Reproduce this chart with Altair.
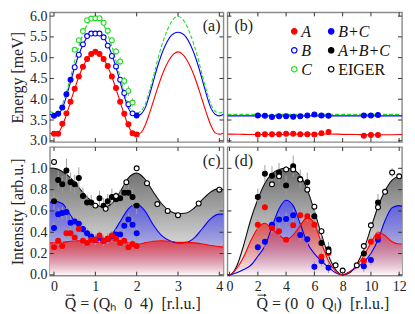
import altair as alt
import pandas as pd

FONT = "Liberation Serif"
TICK = "#333333"
TL = 4

# ---------------- (a) energies along (Qh 0 4) ----------------
A_QH_X = [0.0, 0.1, 0.2, 0.3, 0.4, 0.5, 0.6, 0.7, 0.8, 0.9, 1.0, 1.1, 1.2, 1.3, 1.4, 1.5, 1.6, 1.7, 1.8, 1.9, 2.0]
A_QH_E = [3.17, 3.17, 3.41, 3.66, 3.94, 4.25, 4.55, 4.78, 4.97, 5.09, 5.14, 5.09, 4.97, 4.80, 4.55, 4.27, 3.94, 3.65, 3.40, 3.18, 3.15]
BC_QH_X = [0.0, 0.1, 0.2, 0.3, 0.4, 2.0]
BC_QH_E = [3.60, 3.65, 3.80, 4.12, 4.47, 3.61]
B_QH_X = [0.5, 0.6, 0.7, 0.8, 0.9, 1.0, 1.1, 1.2, 1.3, 1.4, 1.5, 1.6, 1.7, 1.8, 1.9]
B_QH_E = [4.77, 5.07, 5.32, 5.52, 5.58, 5.58, 5.58, 5.49, 5.29, 5.04, 4.79, 4.47, 4.15, 3.88, 3.66]
C_QH_X = [0.5, 0.6, 0.7, 0.8, 0.9, 1.0, 1.1, 1.2, 1.3, 1.4, 1.5, 1.6, 1.7, 1.8, 1.9]
C_QH_E = [5.19, 5.42, 5.64, 5.90, 5.94, 5.95, 5.95, 5.84, 5.65, 5.42, 5.15, 4.91, 4.44, 4.20, 3.92]
C_QH_ERR = [0.05, 0.06, 0.04, 0.03, 0.03, 0.03, 0.03, 0.04, 0.05, 0.06, 0.08, 0.10, 0.10, 0.12, 0.10]

QH_LINE_X = [-0.1, 0.0, 0.1, 0.2, 0.3, 0.4, 0.5, 0.6, 0.7, 0.8, 0.9, 1.0, 1.1, 1.2, 1.3, 1.4, 1.5, 1.6, 1.7, 1.8, 1.9, 2.0,
             2.1, 2.2, 2.3, 2.4, 2.5, 2.6, 2.7, 2.8, 2.9, 3.0, 3.1, 3.2, 3.3, 3.4, 3.5, 3.6, 3.7, 3.8, 3.9, 4.0, 4.1]
RED_QH_LINE = [3.19, 3.16, 3.19, 3.36, 3.63, 3.94, 4.25, 4.54, 4.78, 4.97, 5.09, 5.14, 5.09, 4.97, 4.78, 4.54, 4.25, 3.94, 3.63, 3.36, 3.19, 3.16,
               3.19, 3.36, 3.63, 3.94, 4.25, 4.54, 4.78, 4.97, 5.09, 5.14, 5.09, 4.97, 4.78, 4.54, 4.25, 3.94, 3.63, 3.36, 3.19, 3.16, 3.19]
BLUE_QH_LINE = [3.64, 3.60, 3.64, 3.78, 4.07, 4.42, 4.77, 5.07, 5.31, 5.49, 5.58, 5.61, 5.58, 5.49, 5.31, 5.07, 4.77, 4.42, 4.07, 3.78, 3.64, 3.60,
                3.64, 3.78, 4.07, 4.42, 4.77, 5.07, 5.31, 5.49, 5.58, 5.61, 5.58, 5.49, 5.31, 5.07, 4.77, 4.42, 4.07, 3.78, 3.64, 3.60, 3.64]
GREEN_QH_LINE = [3.71, 3.67, 3.71, 3.87, 4.17, 4.53, 4.92, 5.27, 5.56, 5.79, 5.94, 5.99, 5.94, 5.79, 5.56, 5.27, 4.92, 4.53, 4.17, 3.87, 3.71, 3.67,
                 3.71, 3.87, 4.17, 4.53, 4.92, 5.27, 5.56, 5.79, 5.94, 5.99, 5.94, 5.79, 5.56, 5.27, 4.92, 4.53, 4.17, 3.87, 3.71, 3.67, 3.71]

# ---------------- (b) energies along (0 0 Ql) ----------------
QL_E_X = [2.0, 2.5, 3.0, 3.5, 4.0, 4.5, 5.0, 5.5, 6.0, 6.5, 7.0, 9.5, 10.0, 10.5]
A_QL_E = [3.15, 3.16, 3.16, 3.16, 3.17, 3.17, 3.16, 3.16, 3.15, 3.18, 3.21, 3.12, 3.14, 3.14]
BC_QL_E = [3.61, 3.60, 3.57, 3.59, 3.59, 3.58, 3.59, 3.61, 3.63, 3.61, 3.60, 3.61, 3.61, 3.62]
QL_FLAT_X = [-0.15, 0, 1, 2, 3, 4, 5, 6, 7, 8, 9, 10, 11, 12, 12.2]
RED_QL_FLAT = [3.16, 3.16, 3.155, 3.15, 3.15, 3.155, 3.16, 3.16, 3.165, 3.155, 3.15, 3.145, 3.145, 3.15, 3.155]
BLUE_QL_FLAT = [3.60, 3.60, 3.60, 3.60, 3.60, 3.60, 3.60, 3.60, 3.60, 3.60, 3.60, 3.60, 3.60, 3.60, 3.60]
GREEN_QL_FLAT = [3.635, 3.635, 3.635, 3.635, 3.635, 3.635, 3.635, 3.635, 3.635, 3.635, 3.635, 3.635, 3.635, 3.635, 3.635]

# ---------------- (c) intensities along (Qh 0 4) ----------------
INT_QH_X = [0.0, 0.1, 0.2, 0.3, 0.4, 0.5, 0.6, 0.7, 0.8, 0.9, 1.0, 1.1, 1.2, 1.3, 1.4, 1.5, 1.6, 1.7, 1.8, 1.9, 2.0]
A_QH_I = [0.26, 0.32, 0.27, 0.39, 0.39, 0.35, 0.43, 0.32, 0.30, 0.33, 0.33, 0.37, 0.32, 0.34, 0.37, 0.34, 0.30, 0.32, 0.26, 0.29, 0.27]
A_QH_IERR = [0.04, 0.04, 0.04, 0.05, 0.04, 0.04, 0.05, 0.04, 0.04, 0.04, 0.04, 0.04, 0.04, 0.04, 0.04, 0.04, 0.04, 0.04, 0.04, 0.04, 0.04]
BC_QH_I = [0.44, 0.57, 0.58, 0.59, 0.49, 0.50, 0.48, 0.43, 0.39, 0.36, 0.33, 0.35, 0.32, 0.34, 0.36, 0.38, 0.38, 0.46, 0.52, 0.47, 0.39]
BC_QH_IERR = [0.06, 0.06, 0.06, 0.07, 0.06, 0.06, 0.06, 0.06, 0.05, 0.05, 0.05, 0.05, 0.05, 0.05, 0.05, 0.05, 0.05, 0.06, 0.06, 0.06, 0.06]
ABC_QH_X = [0.0, 0.1, 0.2, 0.3, 0.4, 0.5, 0.6, 0.7, 0.8, 0.9, 1.1, 1.2, 1.3, 1.4, 1.5, 1.6, 1.7, 1.8, 1.9, 2.0]
ABC_QH_I = [0.69, 0.89, 0.85, 0.98, 0.87, 0.85, 0.91, 0.74, 0.68, 0.68, 0.72, 0.65, 0.69, 0.73, 0.71, 0.72, 0.77, 0.77, 0.73, 0.65]
ABC_QH_IERR = [0.08, 0.09, 0.08, 0.11, 0.09, 0.09, 0.10, 0.08, 0.07, 0.07, 0.07, 0.07, 0.07, 0.08, 0.07, 0.08, 0.08, 0.08, 0.08, 0.08]
EIG_QH_X = [0.0, 1.0, 1.25, 1.5, 1.75, 2.0, 2.25, 2.5, 2.75, 3.0, 3.5, 4.0]
EIG_QH_I = [1.06, 0.65, 0.62, 0.74, 0.87, 1.00, 0.86, 0.665, 0.60, 0.56, 0.67, 0.80]
EIG_QH_IERR = [0.02, 0.02, 0.02, 0.02, 0.02, 0.02, 0.02, 0.02, 0.02, 0.02, 0.02, 0.03]

QH_INT_LINE_X = [-0.1, 0.0, 0.2, 0.4, 0.6, 0.8, 1.0, 1.2, 1.4, 1.6, 1.8, 2.0, 2.2, 2.4, 2.6, 2.8, 3.0, 3.2, 3.4, 3.6, 3.8, 4.0, 4.1]
BLACK_QH_INT = [1.0, 1.0, 0.97, 0.91, 0.82, 0.73, 0.665, 0.635, 0.67, 0.78, 0.91, 0.955, 0.90, 0.78, 0.67, 0.60, 0.575, 0.58, 0.63, 0.71, 0.78, 0.81, 0.80]
BLUE_QH_INT = [0.68, 0.69, 0.67, 0.56, 0.45, 0.37, 0.33, 0.32, 0.38, 0.50, 0.62, 0.665, 0.60, 0.47, 0.37, 0.32, 0.30, 0.305, 0.35, 0.44, 0.53, 0.57, 0.57]
RED_QH_INT = [0.30, 0.30, 0.305, 0.315, 0.32, 0.315, 0.305, 0.31, 0.325, 0.32, 0.30, 0.285, 0.30, 0.315, 0.32, 0.315, 0.305, 0.305, 0.30, 0.29, 0.275, 0.265, 0.26]

# ---------------- (d) intensities along (0 0 Ql) ----------------
INT_QL_X = [2.0, 2.5, 3.0, 3.5, 4.0, 4.5, 5.0, 5.5, 6.0, 6.5, 7.0, 9.5, 10.0, 10.5]
A_QL_I = [0.47, 0.635, 0.44, 0.41, 0.33, 0.465, 0.56, 0.55, 0.47, 0.17, 0.205, 0.13, 0.31, 0.36]
A_QL_IERR = [0.05, 0.05, 0.05, 0.05, 0.04, 0.05, 0.05, 0.05, 0.05, 0.05, 0.04, 0.04, 0.05, 0.05]
BC_QL_I = [0.26, 0.31, 0.47, 0.52, 0.525, 0.56, 0.375, 0.335, 0.076, 0.13, 0.067, 0.08, 0.14, 0.33]
BC_QL_IERR = [0.06, 0.06, 0.06, 0.06, 0.06, 0.06, 0.06, 0.06, 0.05, 0.05, 0.05, 0.05, 0.05, 0.05]
ABC_QL_X = [2.0, 2.5, 3.0, 3.5, 4.0, 4.5, 5.0, 5.5, 6.0, 6.5, 7.0, 9.5, 10.5]
ABC_QL_I = [0.73, 0.95, 0.93, 0.96, 0.84, 1.02, 0.90, 0.87, 0.55, 0.30, 0.24, 0.20, 0.68]
ABC_QL_IERR = [0.08, 0.08, 0.09, 0.09, 0.09, 0.10, 0.09, 0.09, 0.08, 0.07, 0.07, 0.07, 0.08]
EIG_QL_X = [3.0, 3.5, 4.0, 4.5, 5.0, 5.5, 6.0, 6.5, 7.0, 7.5, 8.0, 9.0, 9.5, 10.0, 10.5, 11.0, 11.5, 12.0]
EIG_QL_I = [0.85, 0.925, 0.99, 0.99, 0.895, 0.80, 0.64, 0.41, 0.22, 0.09, 0.04, 0.09, 0.27, 0.465, 0.635, 0.78, 0.96, 0.925]
EIG_QL_IERR = [0.03, 0.03, 0.03, 0.03, 0.03, 0.03, 0.03, 0.03, 0.03, 0.02, 0.02, 0.02, 0.03, 0.03, 0.03, 0.03, 0.04, 0.03]

QL_INT_LINE_X = [-0.15, 0.0, 0.5, 1.0, 1.5, 2.0, 2.5, 3.0, 3.5, 4.0, 4.5, 5.0, 5.5, 6.0, 6.5, 7.0, 7.5, 8.0,
                 8.5, 9.0, 9.5, 10.0, 10.5, 11.0, 11.5, 12.0, 12.2]
BLACK_QL_INT = [0.0, 0.0, 0.08, 0.28, 0.52, 0.71, 0.86, 0.95, 0.99, 1.0, 0.99, 0.93, 0.80, 0.60, 0.38, 0.18, 0.05, 0.0,
                0.02, 0.10, 0.24, 0.44, 0.64, 0.79, 0.89, 0.925, 0.93]
BLUE_QL_INT = [0.0, 0.0, 0.02, 0.05, 0.09, 0.175, 0.27, 0.45, 0.62, 0.70, 0.65, 0.48, 0.30, 0.20, 0.13, 0.07, 0.02, 0.0,
               0.03, 0.07, 0.12, 0.20, 0.33, 0.51, 0.63, 0.65, 0.645]
RED_QL_INT = [0.0, 0.0, 0.06, 0.17, 0.32, 0.44, 0.485, 0.43, 0.375, 0.33, 0.375, 0.465, 0.54, 0.48, 0.30, 0.13, 0.035, 0.0,
              0.03, 0.09, 0.18, 0.30, 0.40, 0.37, 0.31, 0.29, 0.29]

# ---------------- series styling (legend drawn in panel b, column-major) ----------------
SERIES = ["A", "B", "C", "B+C", "A+B+C", "EIGER"]
STROKES = ["#ff0000", "#0000ff", "#22dd22", "#0000ff", "#000000", "#000000"]
FILLS = ["#ff0000", "#ffffff", "#ffffff", "#0000ff", "#000000", "#ffffff"]
LABEL_STYLE = ["italic", "italic", "italic", "italic", "italic", "normal"]

# axis titles
X_TITLE_QH = "Q = (Q\u2095\u20020\u20024)\u2002[r.l.u.]"
X_TITLE_QL = "Q = (0\u20020\u2002Q\u2097)\u2002[r.l.u.]"

# ---------------- scales / sizes ----------------
XQH = alt.Scale(domain=[-0.1, 4.1], nice=False, zero=False)
XQL = alt.Scale(domain=[-0.15, 12.2], nice=False, zero=False)
YE = alt.Scale(domain=[2.97, 6.09], nice=False, zero=False)
YI = alt.Scale(domain=[-0.008, 1.2], nice=False, zero=False)
WL, WR, HT, HB = 174, 175, 130, 129
LEG_X0, LEG_DX, LEG_Y0, LEG_DY = 67, 37, 19, 19

STROKE_SCALE = alt.Scale(domain=SERIES, range=STROKES)
FILL_SCALE = alt.Scale(domain=SERIES, range=FILLS)

E_TICKS = [3.0, 3.5, 4.0, 4.5, 5.0, 5.5, 6.0]
I_TICKS = [0.0, 0.2, 0.4, 0.6, 0.8, 1.0]
QH_TICKS = [0, 1, 2, 3, 4]
QL_TICKS = [0, 2, 4, 6, 8, 10, 12]

Y_E_AXIS = alt.Axis(values=E_TICKS, format=".1f", title="Energy [meV]", labelPadding=3, titlePadding=4)
Y_I_AXIS = alt.Axis(values=I_TICKS, format=".1f", title="Intensity [arb.u.]", labelPadding=3, titlePadding=4)
X_QH_AXIS = alt.Axis(values=QH_TICKS, format="d", labelPadding=4, title=None)
X_QL_AXIS = alt.Axis(values=QL_TICKS, format="d", labelPadding=4, title=None)


def frame(x, y, s, err=None):
    err = err if err is not None else [0.0] * len(x)
    return pd.DataFrame({"x": x, "y": y, "s": s,
                         "lo": [v - e for v, e in zip(y, err)],
                         "hi": [v + e for v, e in zip(y, err)]})


def curve(x, y):
    return pd.DataFrame({"x": x, "y": y})


ONE = pd.DataFrame({"k": [0]})


class Panel:
    def __init__(self, xs, ys, xa, ya, w, h):
        self.xs, self.ys, self.xa, self.ya, self.w, self.h = xs, ys, xa, ya, w, h

    def X(self, f):
        return alt.X(f, scale=self.xs, axis=self.xa)

    def Y(self, f):
        return alt.Y(f, scale=self.ys, axis=self.ya)

    def line(self, df, color, dash=None, width=1.1):
        kw = dict(color=color, strokeWidth=width, interpolate="monotone", clip=True)
        if dash:
            kw["strokeDash"] = dash
        return alt.Chart(df).mark_line(**kw).encode(x=self.X("x:Q"), y=self.Y("y:Q"))

    def area(self, df, g):
        return alt.Chart(df).mark_area(color=g, interpolate="monotone", clip=True).encode(
            x=self.X("x:Q"), y=self.Y("y:Q"), y2=alt.datum(0))

    def err(self, df):
        return alt.Chart(df).mark_rule(color="#a0a0a0", strokeWidth=1).encode(
            x=self.X("x:Q"), y=self.Y("lo:Q"), y2="hi:Q")

    def points(self, df):
        return alt.Chart(df).mark_point(shape="circle", size=24, strokeWidth=1.1, opacity=1).encode(
            x=self.X("x:Q"), y=self.Y("y:Q"),
            stroke=alt.Stroke("s:N", scale=STROKE_SCALE, legend=None),
            fill=alt.Fill("s:N", scale=FILL_SCALE, legend=None))

    def ticks(self, xvals, yvals):
        tx = pd.DataFrame({"t": xvals})
        ty = pd.DataFrame({"t": yvals})
        r = dict(color=TICK, strokeWidth=1)
        w, h = self.w, self.h
        return [
            alt.Chart(tx).mark_rule(**r).encode(x=self.X("t:Q"), y=alt.value(0), y2=alt.value(TL)),
            alt.Chart(tx).mark_rule(**r).encode(x=self.X("t:Q"), y=alt.value(h - TL), y2=alt.value(h)),
            alt.Chart(ty).mark_rule(**r).encode(y=self.Y("t:Q"), x=alt.value(0), x2=alt.value(TL)),
            alt.Chart(ty).mark_rule(**r).encode(y=self.Y("t:Q"), x=alt.value(w - TL), x2=alt.value(w)),
        ]

    def tag(self, text, x, y, align, size=16, style="normal"):
        return alt.Chart(ONE).mark_text(
            text=text, font=FONT, fontSize=size, fontStyle=style, align=align, baseline="middle",
            color="#222").encode(x=alt.value(x), y=alt.value(y))

    def xtitle(self, text, x0):
        """Axis title written left-aligned, with a vector arrow drawn over the leading Q."""
        ty = self.h + 28
        ax = x0 + 5.8
        ay = self.h + 19.5
        return [
            self.tag(text, x0, ty, "left"),
            alt.Chart(ONE).mark_rule(color="#222", strokeWidth=0.9).encode(
                x=alt.value(ax - 4.5), x2=alt.value(ax + 3), y=alt.value(ay)),
            alt.Chart(ONE).mark_point(shape="triangle-right", size=9, filled=True, color="#222",
                                      opacity=1).encode(x=alt.value(ax + 3.2), y=alt.value(ay)),
        ]


def legend_layers():
    out = []
    for i, (lab, st, fi, sty) in enumerate(zip(SERIES, STROKES, FILLS, LABEL_STYLE)):
        lx = LEG_X0 + (i // 3) * LEG_DX
        ly = LEG_Y0 + (i % 3) * LEG_DY
        out.append(alt.Chart(ONE).mark_point(shape="circle", size=30, strokeWidth=1.2, stroke=st,
                                             fill=fi, opacity=1).encode(x=alt.value(lx), y=alt.value(ly)))
        out.append(alt.Chart(ONE).mark_text(text=lab, font=FONT, fontSize=16, fontStyle=sty, align="left",
                                            baseline="middle", color="#111").encode(
            x=alt.value(lx + 7), y=alt.value(ly + 1)))
    return out


def grad(c0, c1):
    return alt.Gradient(gradient="linear", x1=0, x2=0, y1=0, y2=1,
                        stops=[alt.GradientStop(color=c0, offset=0), alt.GradientStop(color=c1, offset=1)])


GRAY_G = grad("#6c6c6c", "#ffffff")
BLUE_G = grad("rgba(70,70,255,0.72)", "rgba(70,70,255,0.0)")
RED_G = grad("rgba(238,40,40,0.78)", "rgba(238,40,40,0.04)")

# ---------------- panel (a) ----------------
P = Panel(XQH, YE, None, Y_E_AXIS, WL, HT)
pts_a = pd.concat([frame(A_QH_X, A_QH_E, "A"), frame(BC_QH_X, BC_QH_E, "B+C"),
                   frame(B_QH_X, B_QH_E, "B"), frame(C_QH_X, C_QH_E, "C", C_QH_ERR)])
panel_a = alt.layer(
    P.line(curve(QH_LINE_X, RED_QH_LINE), "#ff0000"),
    P.line(curve(QH_LINE_X, BLUE_QH_LINE), "#0000ff"),
    P.line(curve(QH_LINE_X, GREEN_QH_LINE), "#22dd22", dash=[4, 2]),
    P.err(pts_a),
    P.points(pts_a),
    *P.ticks(QH_TICKS, E_TICKS),
    P.tag("(a)", WL - 3, 14, "right"),
).properties(width=WL, height=HT)

# ---------------- panel (b) ----------------
P = Panel(XQL, YE, None, None, WR, HT)
pts_b = pd.concat([frame(QL_E_X, A_QL_E, "A"), frame(QL_E_X, BC_QL_E, "B+C")])
panel_b = alt.layer(
    P.line(curve(QL_FLAT_X, RED_QL_FLAT), "#ff0000"),
    P.line(curve(QL_FLAT_X, BLUE_QL_FLAT), "#0000ff"),
    P.line(curve(QL_FLAT_X, GREEN_QL_FLAT), "#22dd22", dash=[4, 2]),
    P.points(pts_b),
    *P.ticks(QL_TICKS, E_TICKS),
    P.tag("(b)", 7, 14, "left"),
    *legend_layers(),
).properties(width=WR, height=HT)

# ---------------- panel (c) ----------------
P = Panel(XQH, YI, X_QH_AXIS, Y_I_AXIS, WL, HB)
pts_c = pd.concat([frame(INT_QH_X, BC_QH_I, "B+C", BC_QH_IERR), frame(INT_QH_X, A_QH_I, "A", A_QH_IERR),
                   frame(ABC_QH_X, ABC_QH_I, "A+B+C", ABC_QH_IERR), frame(EIG_QH_X, EIG_QH_I, "EIGER", EIG_QH_IERR)])
panel_c = alt.layer(
    P.area(curve(QH_INT_LINE_X, BLACK_QH_INT), GRAY_G),
    P.area(curve(QH_INT_LINE_X, BLUE_QH_INT), BLUE_G),
    P.area(curve(QH_INT_LINE_X, RED_QH_INT), RED_G),
    P.line(curve(QH_INT_LINE_X, BLACK_QH_INT), "#111111"),
    P.line(curve(QH_INT_LINE_X, BLUE_QH_INT), "#0000ff"),
    P.line(curve(QH_INT_LINE_X, RED_QH_INT), "#ff0000"),
    P.err(pts_c),
    P.points(pts_c),
    *P.ticks(QH_TICKS, I_TICKS),
    P.tag("(c)", WL - 3, 14, "right"),
    *P.xtitle(X_TITLE_QH, 15),
).properties(width=WL, height=HB)

# ---------------- panel (d) ----------------
P = Panel(XQL, YI, X_QL_AXIS, None, WR, HB)
pts_d = pd.concat([frame(INT_QL_X, BC_QL_I, "B+C", BC_QL_IERR), frame(INT_QL_X, A_QL_I, "A", A_QL_IERR),
                   frame(ABC_QL_X, ABC_QL_I, "A+B+C", ABC_QL_IERR), frame(EIG_QL_X, EIG_QL_I, "EIGER", EIG_QL_IERR)])
panel_d = alt.layer(
    P.area(curve(QL_INT_LINE_X, BLACK_QL_INT), GRAY_G),
    P.area(curve(QL_INT_LINE_X, BLUE_QL_INT), BLUE_G),
    P.area(curve(QL_INT_LINE_X, RED_QL_INT), RED_G),
    P.line(curve(QL_INT_LINE_X, BLACK_QL_INT), "#111111"),
    P.line(curve(QL_INT_LINE_X, BLUE_QL_INT), "#0000ff"),
    P.line(curve(QL_INT_LINE_X, RED_QL_INT), "#ff0000"),
    P.err(pts_d),
    P.points(pts_d),
    *P.ticks(QL_TICKS, I_TICKS),
    P.tag("(d)", 7, 14, "left"),
    *P.xtitle(X_TITLE_QL, 29),
).properties(width=WR, height=HB)

chart = alt.concat(
    panel_a, panel_b, panel_c, panel_d,
    columns=2, spacing={"row": 5, "column": 4}, align="each", bounds="flush",
).properties(padding=0).configure_view(
    stroke="#8a8a8a", strokeWidth=1.4
).configure_axis(
    labelFont=FONT, labelFontSize=14, labelColor="#222", titleFont=FONT, titleFontSize=16,
    titleFontWeight="normal", titleColor="#222", grid=False, ticks=False, domain=False,
)

chart.save("out.html", embed_options={"renderer": "svg", "actions": False})
